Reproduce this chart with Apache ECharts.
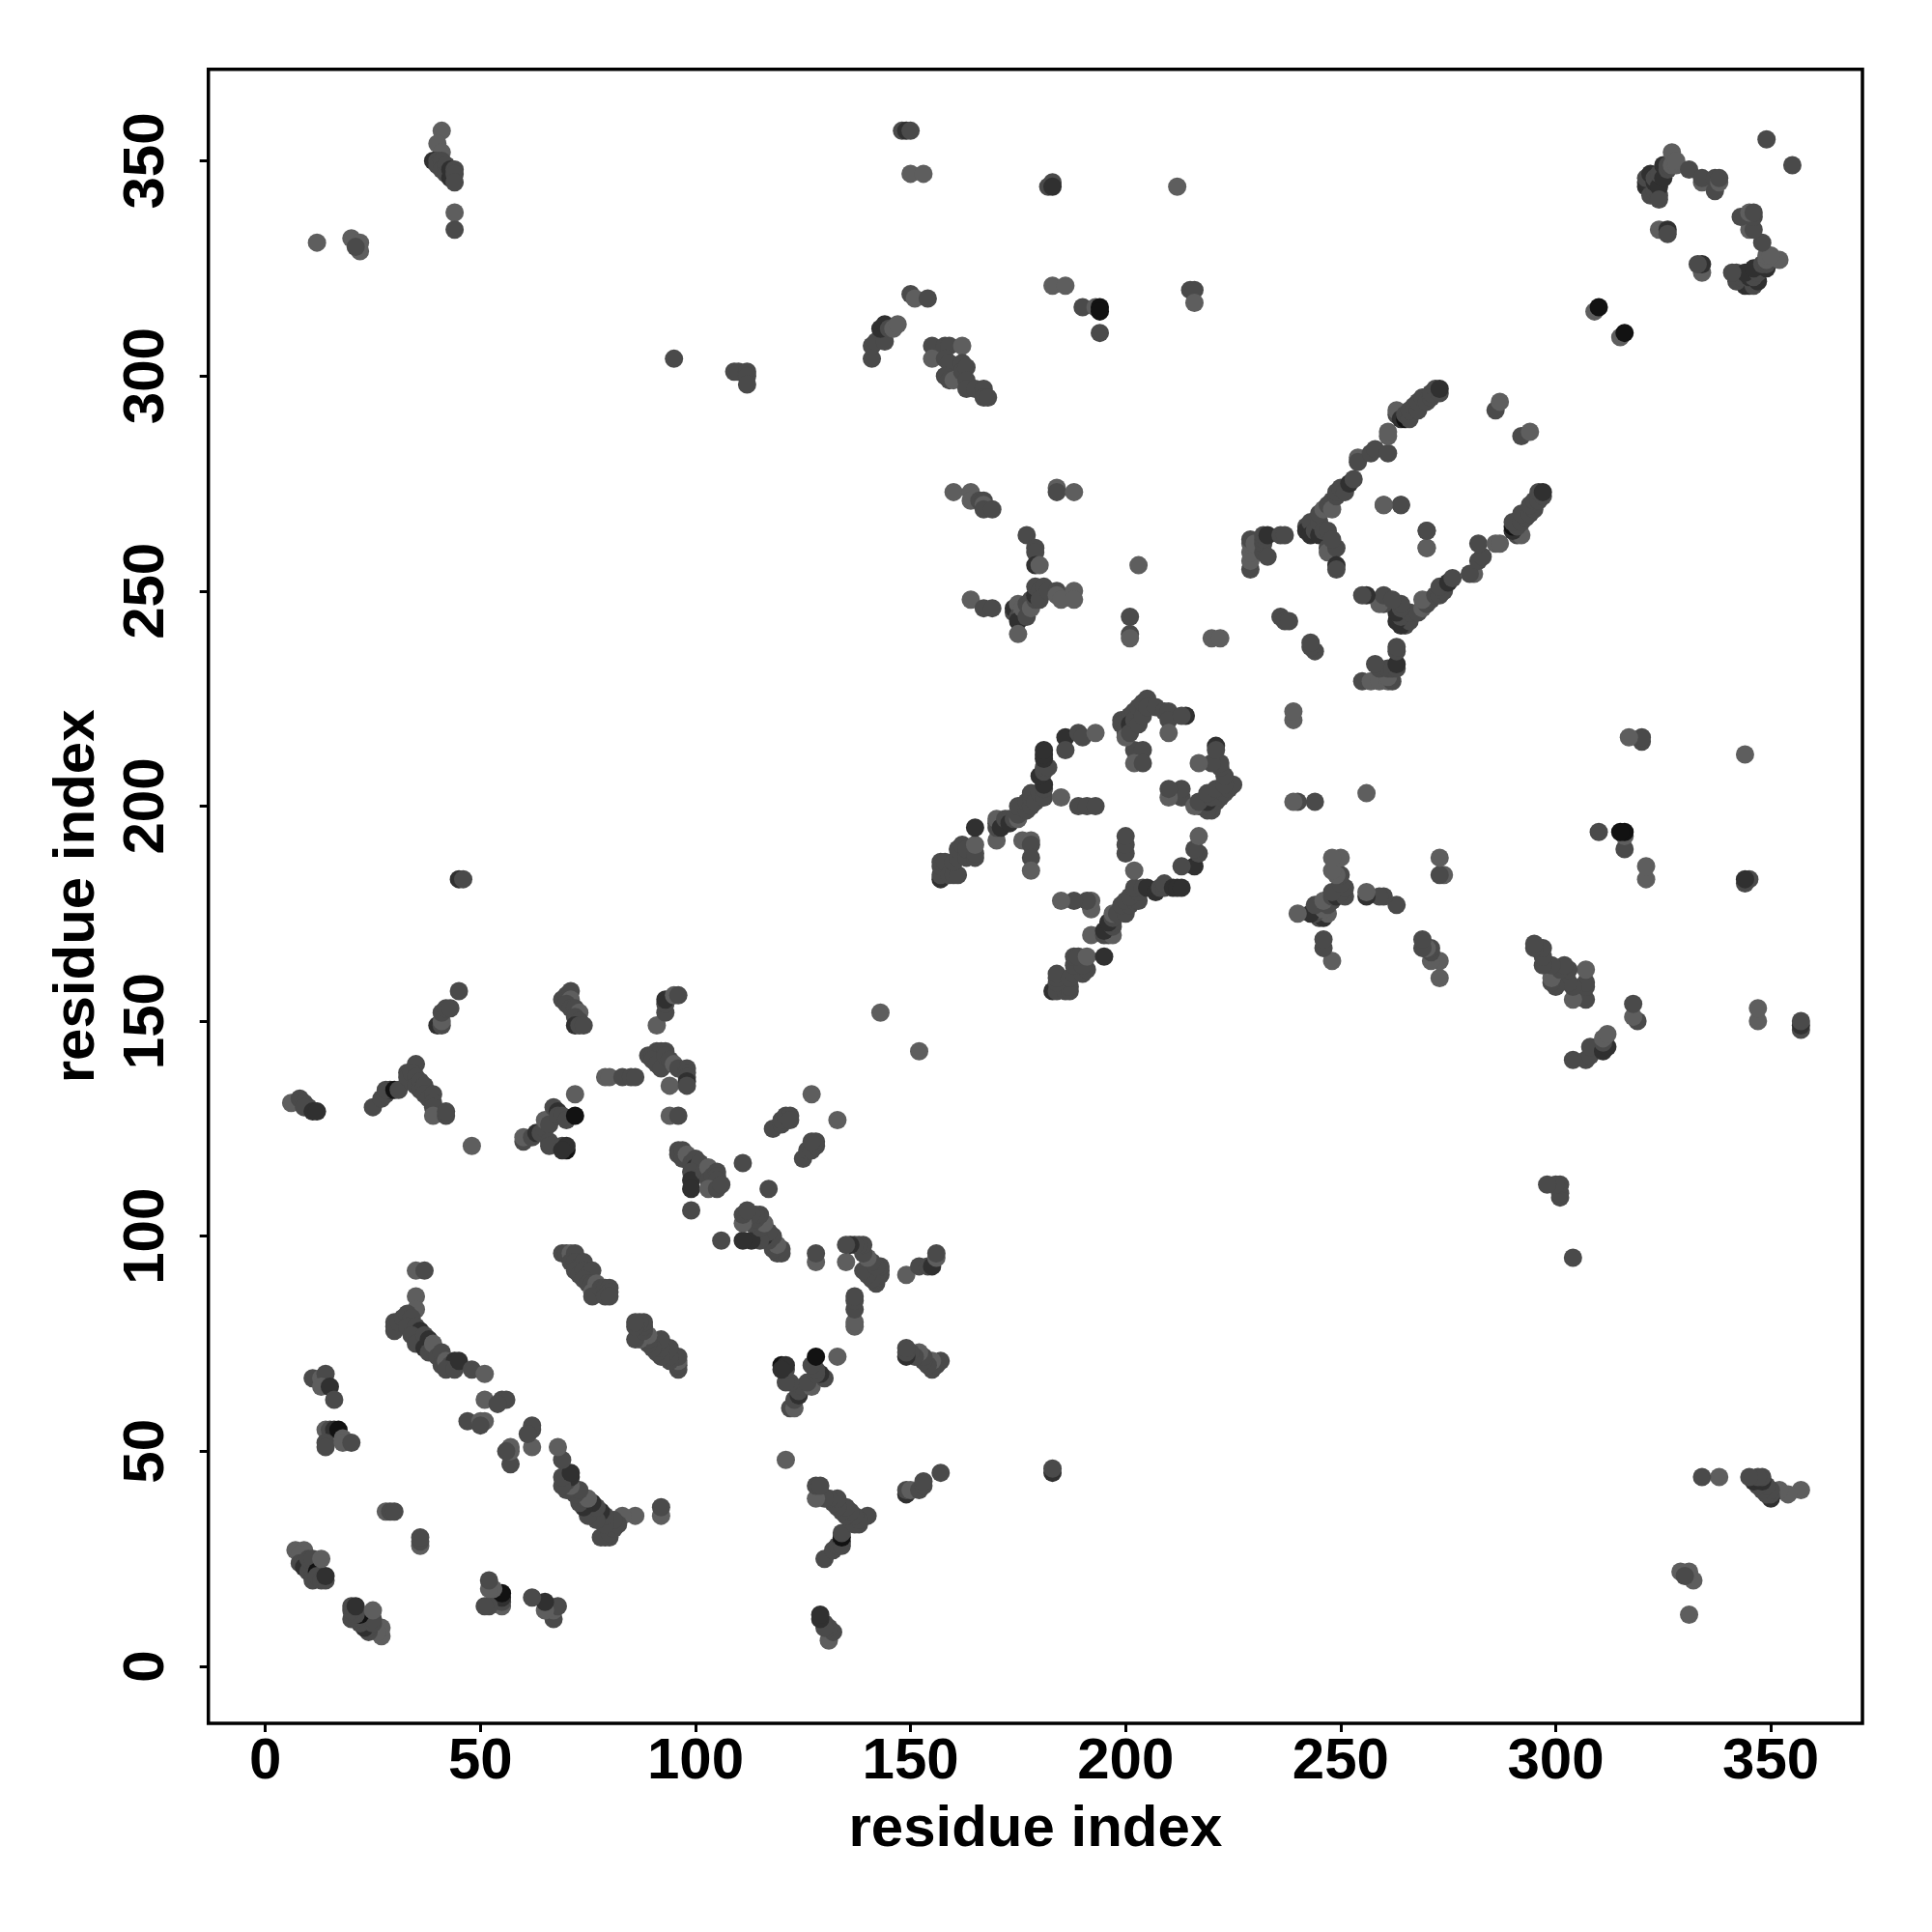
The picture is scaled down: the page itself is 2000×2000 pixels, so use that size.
<!DOCTYPE html>
<html><head><meta charset="utf-8">
<script src="https://cdn.jsdelivr.net/npm/echarts@6/dist/echarts.min.js"></script>
<style>html,body{margin:0;padding:0;background:#fff}#c{width:2000px;height:2000px}</style></head>
<body><div id="c"></div>
<script>
const tickLabels=[0,50,100,150,200,250,300,350];
const axisTitle='residue index';
const shades=['#5e5e5e','#4a4a4a','#303030','#121212'];
// contacts read as [residue i, residue j, darkness level], i<j; the contact map holds each pair as (i,j) and (j,i)
const nTerminal=[[7,27,0],[9,27,0],[8,26,0],[8,24,1],[9,24,1],[9,23,2],[10,22,1],[10,25,1],[11,25,1],[11,21,1],[11,20,1],[12,22,3],[12,21,1],[13,20,1],[14,20,1],[14,21,2],[13,25,0],
[11,67,1],[13,67,0],[14,68,1],[13,65,0],[15,65,2],[16,62,1],[14,55,0],[15,55,1],[16,55,2],[17,55,3],[14,52,1],[14,51,1],[18,53,0],[18,52,0],[20,52,1],[28,36,0],[29,36,1],[30,36,1]];
const strip30=[[35,92,0],[37,92,1],[35,86,0],[35,83,0],[30,80,1],[30,79,1],[30,78,1],[31,80,1],[32,81,1],[33,82,1],[34,81,1],[33,79,1],[35,79,1],[36,78,2],[34,77,1],[35,75,1],[37,77,1],[38,76,2],[37,74,2],[38,73,1],[39,74,1],[39,75,0],[40,72,1],[41,73,1],[41,70,1],[42,71,0],[43,70,1],[44,71,2],[42,69,1],[44,69,1],[45,71,2],[48,69,1],[51,68,0],[51,62,0],[55,62,1],[56,62,1],[54,61,1],[47,57,1],[50,57,0],[51,57,0],[50,56,1]];
const strip70=[[69,96,1],[70,96,1],[71,96,0],[72,96,1],[71,94,1],[72,94,1],[73,93,1],[74,94,1],[72,92,1],[73,91,1],[74,92,1],[75,91,1],[76,92,1],[74,90,1],[75,89,1],[76,89,1],[77,89,0],[76,87,0],[76,86,1],[78,88,1],[79,88,1],[80,88,1],[80,87,1],[79,86,1],[80,86,1]];
const row130=[[6,131,0],[8,132,1],[9,131,1],[10,130,1],[9,130,1],[11,129,2],[12,129,2],[25,130,1],[27,132,1],[28,133,1],[29,134,2],[28,134,1],[30,134,3],[31,134,1],[33,138,1],[34,136,1],[33,137,1],[35,140,1],[34,138,1],[35,137,1],[35,135,1],[36,136,1],[36,134,1],[37,135,1],[37,133,1],[38,132,1],[39,133,1],[39,131,1],[39,130,1],[39,128,0],[42,128,1],[42,129,1],[48,121,0],[40,149,2],[41,149,1],[41,150,0],[41,152,1],[42,153,1],[43,153,1],[45,157,1]];
const row120=[[60,122,1],[60,123,0],[62,123,1],[63,124,2],[64,124,1],[65,125,1],[65,127,0],[66,126,1],[66,122,1],[66,121,1],[67,130,1],[68,129,2],[68,128,1],[69,128,1],[70,127,1],[69,121,1],[70,120,3],[70,121,2],[69,120,2],[72,128,3],[72,133,0],
[69,155,1],[70,156,1],[71,157,1],[71,155,0],[70,154,1],[71,153,1],[72,153,1],[73,152,0],[72,151,1],[73,150,1],[72,149,2],[73,149,1],[74,149,1],[79,137,0],[80,137,0],[83,137,1],[85,137,1],[86,137,1]];
const row140=[[91,149,0],[93,152,1],[93,154,1],[93,155,2],[95,156,0],[96,156,1],[89,142,1],[90,142,1],[91,143,1],[92,143,1],[93,143,1],[90,141,1],[91,140,1],[92,139,1],[93,142,1],[94,141,1],[95,140,0],[96,139,1],[94,135,0],[98,139,1],[98,138,1],[98,137,1],[98,136,2],[98,135,1],[94,128,0],[96,128,1]];
const row110=[[96,120,1],[96,119,1],[97,120,1],[97,118,1],[98,119,0],[99,117,1],[100,118,1],[100,116,2],[101,117,1],[99,115,1],[99,113,2],[99,111,2],[99,106,1],[102,115,1],[103,116,0],[103,113,1],[104,114,1],[105,115,1],[105,114,1],[105,113,1],[103,111,0],[105,111,1],[106,112,1],[111,117,1],[118,125,1],[120,126,1],[120,127,1],[121,128,1],[122,128,1],[122,127,1],[127,133,0],[143,152,0]];
const farLeft=[[12,331,0],[20,332,0],[22,331,0],[22,329,0],[21,330,1],[41,357,0],[40,354,0],[41,352,0],[39,350,2],[40,350,1],[40,349,1],[41,350,1],[41,348,1],[42,349,1],[42,347,1],[43,346,2],[43,348,2],[44,348,1],[44,347,1],[44,345,1],[44,338,0],[44,334,1],[45,183,2],[46,183,1],[95,304,1],[109,301,1],[110,301,1],[112,301,1],[112,300,1],[112,298,1]];
const farTop=[[148,357,1],[149,357,2],[150,357,1],[150,347,0],[153,347,0],[182,344,1],[183,345,1],[183,344,2],[212,344,0],[215,320,1],[216,320,1],[216,317,0],[141,304,1],[141,307,1],[142,308,1],[144,308,1],[143,311,2],[144,312,2],[145,311,1],[146,311,0],[147,312,0],[150,319,1],[151,318,0],[154,318,1],[155,307,1],[155,304,0],[158,307,1],[159,307,1],[162,307,0],[158,304,1],[159,303,1],[162,303,1],[158,300,1],[159,299,1],[160,299,0],[162,301,1],[163,302,1],[163,299,1],[163,297,1],[165,297,1],[167,297,1],[167,295,1],[168,295,1],[183,321,0],[186,321,0],[190,316,1],[193,316,0],[194,316,3],[194,315,3],[194,310,1]];
const midTop=[[160,273,0],[164,273,0],[164,271,0],[166,271,1],[167,271,1],[167,270,0],[167,269,1],[169,269,1],[184,274,0],[184,273,1],[188,273,0],[177,263,1],[179,260,1],[179,259,1],[179,256,2],[180,256,0],[203,256,0],[164,248,0],[167,246,1],[169,246,1],[174,245,1],[174,246,2],[175,247,0],[175,244,1],[176,245,0],[175,243,2],[175,240,0],[176,246,0],[177,247,1],[177,244,1],[178,248,1],[178,246,0],[179,248,1],[179,249,2],[179,251,1],[180,250,1],[181,251,1],[180,248,1],[182,250,1],[184,250,1],[184,249,0],[185,248,0],[188,250,0],[188,248,0],[201,244,1],[201,240,1],[201,239,0],[220,239,0],[222,239,0],[236,244,1],[237,243,1],[238,243,1]];
const band230=[[229,255,1],[229,257,0],[229,259,0],[229,261,0],[229,262,1],[230,261,0],[232,259,1],[232,261,1],[232,262,1],[232,263,1],[233,263,2],[233,258,1],[236,263,1],[237,263,1],[242,265,1],[242,264,2],[243,266,1],[243,263,2],[244,264,1],[245,263,2],[245,266,1],[245,268,1],[246,264,1],[246,269,0],[247,264,1],[247,270,1],[248,271,1],[248,269,0],[249,272,1],[249,273,1],[250,274,1],[251,273,1],[252,275,2],[253,276,1],[254,281,0],[254,280,1],[257,282,1],[258,283,1],[261,282,1],[261,286,0],[261,287,0],[263,291,1],[263,292,0],[264,290,2],[265,290,3],[265,291,1],[266,290,1],[266,292,1],[267,293,1],[268,292,1],[268,294,1],[269,295,1],[270,294,1],[271,295,1],[271,296,1],[272,297,1],[273,296,1],[273,297,2],[247,260,1],[247,259,0],[249,260,1],[249,256,2],[249,255,1],[248,262,1],[260,270,0],[264,270,1],[270,264,1],[270,260,0],[286,292,1],[287,294,0]];
const band160=[[157,183,2],[157,184,1],[157,186,1],[157,187,1],[158,187,1],[159,184,1],[160,184,1],[161,184,1],[160,187,1],[161,188,1],[161,190,1],[162,191,1],[163,188,1],[163,190,1],[165,188,1],[165,189,1],[165,191,0],[165,195,2],[170,192,0],[170,195,1],[170,196,1],[170,197,0],[171,195,2],[172,197,1],[173,197,1],[173,196,2],[174,197,1],[175,197,0],[175,198,1],[175,200,1],[177,199,1],[177,201,1],[178,200,1],[178,202,1],[178,203,1],[179,201,1],[180,203,1],[181,202,1],[181,204,1],[181,205,2],[180,207,2],[181,208,1],[181,209,1],[182,209,1],[181,211,2],[181,212,2],[181,213,2],[185,202,0],[176,192,0],[178,192,0],[178,191,1],[178,188,1],[178,185,0],[189,200,1],[191,200,1],[193,200,1]];
const ring200=[[186,216,2],[186,213,1],[189,217,1],[190,216,1],[193,217,0],[202,213,1],[204,213,1],[202,210,0],[204,210,1],[199,220,1],[199,219,1],[200,218,1],[200,217,1],[200,216,0],[201,221,1],[201,219,2],[201,217,1],[202,222,1],[202,220,1],[203,223,1],[203,219,1],[204,221,1],[204,224,1],[205,225,1],[205,223,1],[207,223,1],[209,222,1],[210,222,1],[210,220,1],[210,217,0],[214,221,2],[213,221,1]];
const cTerminal=[[309,315,0],[310,316,3],[321,344,2],[321,345,2],[321,346,1],[322,342,1],[322,347,2],[323,343,1],[323,345,2],[323,346,1],[324,342,1],[324,344,2],[324,341,1],[324,347,1],[325,346,2],[325,349,2],[326,348,1],[326,349,1],[327,349,0],[327,352,0],[328,349,0],[328,350,0],[331,348,1],[334,345,0],[334,346,1],[337,346,1],[337,343,1],[338,345,0],[338,346,1],[324,334,0],[326,334,2],[326,333,1],[349,355,1]];
const contacts=[].concat(nTerminal,strip30,strip70,row130,row120,row140,row110,farLeft,farTop,midTop,band230,band160,ring200,cTerminal);
const points=contacts.concat(contacts.map(c=>[c[1],c[0],c[2]]));
const font='"Liberation Sans"';
const chart=echarts.init(document.getElementById('c'));
function axis(extra){return Object.assign({type:'value',min:-13.25,max:371.3,splitLine:{show:false},
  axisLine:{show:false,onZero:false},
  axisTick:{show:true,length:9,inside:false,lineStyle:{color:'#000',width:3},customValues:tickLabels},
  name:axisTitle,nameLocation:'middle',
  nameTextStyle:{fontFamily:font,fontWeight:'bold',fontSize:60,color:'#000'}},extra);}
chart.setOption({animation:false,backgroundColor:'#fff',
  grid:{left:215.7,top:71.7,width:1712.3,height:1712.3,show:true,borderColor:'#000',borderWidth:3.5,backgroundColor:'#fff',containLabel:false},
  xAxis:axis({nameGap:80,axisLabel:{customValues:tickLabels,margin:10,fontFamily:font,fontWeight:'bold',fontSize:60,color:'#000',hideOverlap:false,showMinLabel:true,showMaxLabel:true}}),
  yAxis:axis({nameGap:105,nameRotate:90,axisLabel:{customValues:tickLabels,rotate:90,margin:33,fontFamily:font,fontWeight:'bold',fontSize:60,color:'#000',hideOverlap:false}}),
  series:[{type:'scatter',symbol:'circle',symbolSize:19,data:points,
    itemStyle:{color:p=>shades[p.data[2]],opacity:1},silent:true,clip:false}]});
</script></body></html>
